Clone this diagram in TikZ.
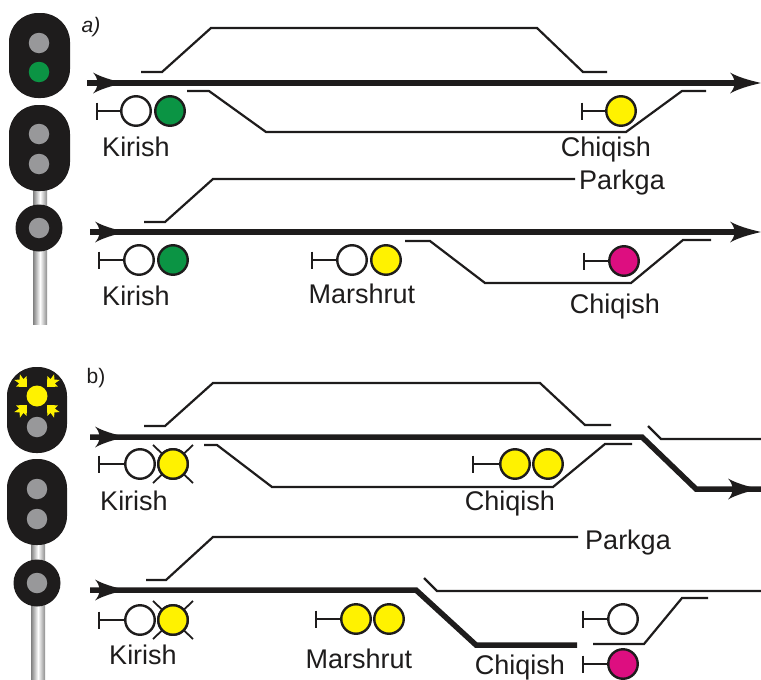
\documentclass[tikz,border=0pt]{standalone}
\usepackage{fontspec}
\setmainfont{Liberation Sans}
\definecolor{ink}{HTML}{1E1C1C}
\definecolor{lampgrey}{HTML}{98989A}
\definecolor{sgreen}{HTML}{0B9444}
\definecolor{syellow}{HTML}{FFF200}
\definecolor{smag}{HTML}{DD0E80}
\tikzset{
 x=1pt,y=-1pt,
 thin track/.style={draw=ink,line width=2.2pt,line join=miter},
 main track/.style={draw=ink,line width=5.5pt,line join=miter},
 lamp/.style={circle,draw=ink,line width=2.4pt,minimum size=29.5pt,inner sep=0pt,fill=white},
 body/.style={fill=ink,rounded corners=29pt},
 sigdot/.style={circle,fill=lampgrey,minimum size=20.5pt,inner sep=0pt},
 stopbar/.style={draw=ink,line width=2.4pt},
 crossline/.style={draw=ink,line width=1.8pt},
 lab/.style={font=\fontsize{27}{30}\selectfont,text=ink,inner sep=0pt},
 pole/.style={left color=gray,right color=gray!90,middle color=white},
}
\newcommand{\headarrow}[2]{%
 \fill[ink] (#1+31,#2) .. controls (#1+18,#2+3) and (#1+8,#2+6) .. (#1,#2+10.5) .. controls (#1+6,#2+4) and (#1+6,#2-4) .. (#1,#2-10.5) .. controls (#1+8,#2-6) and (#1+18,#2-3) .. (#1+31,#2) -- cycle;}
\newcommand{\stopto}[3]{\coordinate (#1bar) at (#2,#3); \draw[stopbar] (#2,#3-8.5) -- (#2,#3+8.5); \draw[stopbar] (#1bar) -- (#1);}
\newcommand{\crossit}[1]{\draw[crossline] ([shift={(-20,-19)}]#1.center) -- ([shift={(20,19)}]#1.center); \draw[crossline] ([shift={(-20,19)}]#1.center) -- ([shift={(20,-19)}]#1.center);}
\newcommand{\ray}[3]{\begin{scope}[shift={(#1,#2)},rotate=#3]
 \fill[syellow] (0,0) -- (7.5,-8) -- (3,-8) -- (4,-14) -- (0,-10.5) -- (-4,-14) -- (-3,-8) -- (-7.5,-8) -- cycle;\end{scope}}
\begin{document}
\begin{tikzpicture}
\useasboundingbox (0,0) rectangle (761,680);
% --- signals a
\fill[pole] (33,185) rectangle (47,324);
\fill[body] (9,13) rectangle (70,98);
\fill[body] (9,105) rectangle (70,191);
\fill[ink] (39,228) circle (23.5);
\node[sigdot] (a1) at (39,43) {};
\node[sigdot,fill=sgreen] (a2) at (39,72) {};
\node[sigdot] (a3) at (39,134) {};
\node[sigdot] (a4) at (39,164) {};
\node[sigdot] (a5) at (39,228) {};
% --- signals b
\fill[pole] (31,540) rectangle (45,679);
\fill[body] (7,367) rectangle (67,453);
\fill[body] (7,459) rectangle (67,545);
\fill[ink] (37,583) circle (23.5);
\node[sigdot,fill=syellow,minimum size=21pt] (b1) at (37,396) {};
\node[sigdot] (b2) at (37,427) {};
\node[sigdot] (b3) at (37,489) {};
\node[sigdot] (b4) at (37,519) {};
\node[sigdot] (b5) at (37,583) {};
\ray{27}{387}{45}\ray{47}{387}{-45}\ray{27}{405}{135}\ray{47}{405}{-135}
% --- a) top
\node[font=\fontsize{21}{24}\itshape\selectfont,text=ink,inner sep=0pt] (lba) at (91,27) {a)};
\draw[main track] (87,83) -- (745,83);
\headarrow{93}{83}\headarrow{730}{83}
\draw[thin track] (141,72) -- (162,72) -- (211,28) -- (537,28) -- (583,72) -- (607,72);
\draw[thin track] (187,91) -- (209,91) -- (266,132) -- (626,132) -- (682,91) -- (706,91);
\node[lamp] (l1) at (136,111) {};
\node[lamp,fill=sgreen] (l2) at (170,111) {};
\stopto{l1}{97}{111}
\node[lab] (t1) at (136,147) {Kirish};
\node[lamp,fill=syellow] (l3) at (621,111) {};
\stopto{l3}{582}{111}
\node[lab] (t2) at (606,150) {Chiqish};
% --- a) bottom
\draw[thin track] (144,222) -- (165,222) -- (213,179) -- (575,179);
\node[lab] (t3) at (622,183) {Parkga};
\draw[main track] (90,232) -- (745,232);
\headarrow{95}{232}\headarrow{730}{232}
\draw[thin track] (405,241) -- (430,241) -- (485,283) -- (631,283) -- (683,240) -- (711,240);
\node[lamp] (l4) at (139,260) {};
\node[lamp,fill=sgreen] (l5) at (173,260) {};
\stopto{l4}{99}{260}
\node[lab] (t4) at (136,296) {Kirish};
\node[lamp] (l6) at (352,260) {};
\node[lamp,fill=syellow] (l7) at (386,260) {};
\stopto{l6}{312}{260}
\node[lab] (t5) at (362,294) {Marshrut};
\node[lamp,fill=smag] (l8) at (624,261) {};
\stopto{l8}{584}{261}
\node[lab] (t6) at (615,307) {Chiqish};
% --- b) top
\node[font=\fontsize{21}{24}\selectfont,text=ink,inner sep=0pt] (lbb) at (96,378) {b)};
\draw[thin track] (144,426) -- (165,426) -- (213,383) -- (540,383) -- (585,425) -- (611,425);
\draw[main track] (90,437) -- (642,437) -- (696,489) -- (761,489);
\headarrow{95}{437}\headarrow{728}{489}
\draw[thin track] (648,426) -- (661,439) -- (761,439);
\draw[thin track] (204,445) -- (217,445) -- (272,487) -- (553,487) -- (605,444) -- (632,444);
\node[lamp,fill=syellow] (l10) at (173,464) {};
\crossit{l10}
\node[lamp,fill=syellow] at (l10) {};
\node[lamp] (l9) at (140,464) {};
\stopto{l9}{99}{464}
\node[lab] (t7) at (134,501) {Kirish};
\node[lamp,fill=syellow] (l11) at (515,464) {};
\node[lamp,fill=syellow] (l12) at (548,464) {};
\stopto{l11}{473}{464}
\node[lab] (t8) at (510,504) {Chiqish};
% --- b) bottom
\draw[thin track] (146,580) -- (166,580) -- (213,537) -- (578,537);
\node[lab] (t9) at (628,543) {Parkga};
\draw[main track] (90,590) -- (416,590) -- (476,645) -- (577,645);
\headarrow{95}{590}
\draw[thin track] (424,578) -- (437,591) -- (761,591);
\draw[thin track] (593,644) -- (644,644) -- (682,598) -- (708,598);
\node[lamp,fill=syellow] (l14) at (173,620) {};
\crossit{l14}
\node[lamp,fill=syellow] at (l14) {};
\node[lamp] (l13) at (140,620) {};
\stopto{l13}{99}{620}
\node[lab] (t10) at (143,655) {Kirish};
\node[lamp,fill=syellow] (l15) at (356,619) {};
\node[lamp,fill=syellow] (l16) at (389,619) {};
\stopto{l15}{316}{619}
\node[lab] (t11) at (359,659) {Marshrut};
\node[lamp] (l17) at (623,619) {};
\stopto{l17}{583}{619}
\node[lamp,fill=smag] (l18) at (623,664) {};
\stopto{l18}{583}{664}
\node[lab] (t12) at (520,668) {Chiqish};
\end{tikzpicture}
\end{document}
